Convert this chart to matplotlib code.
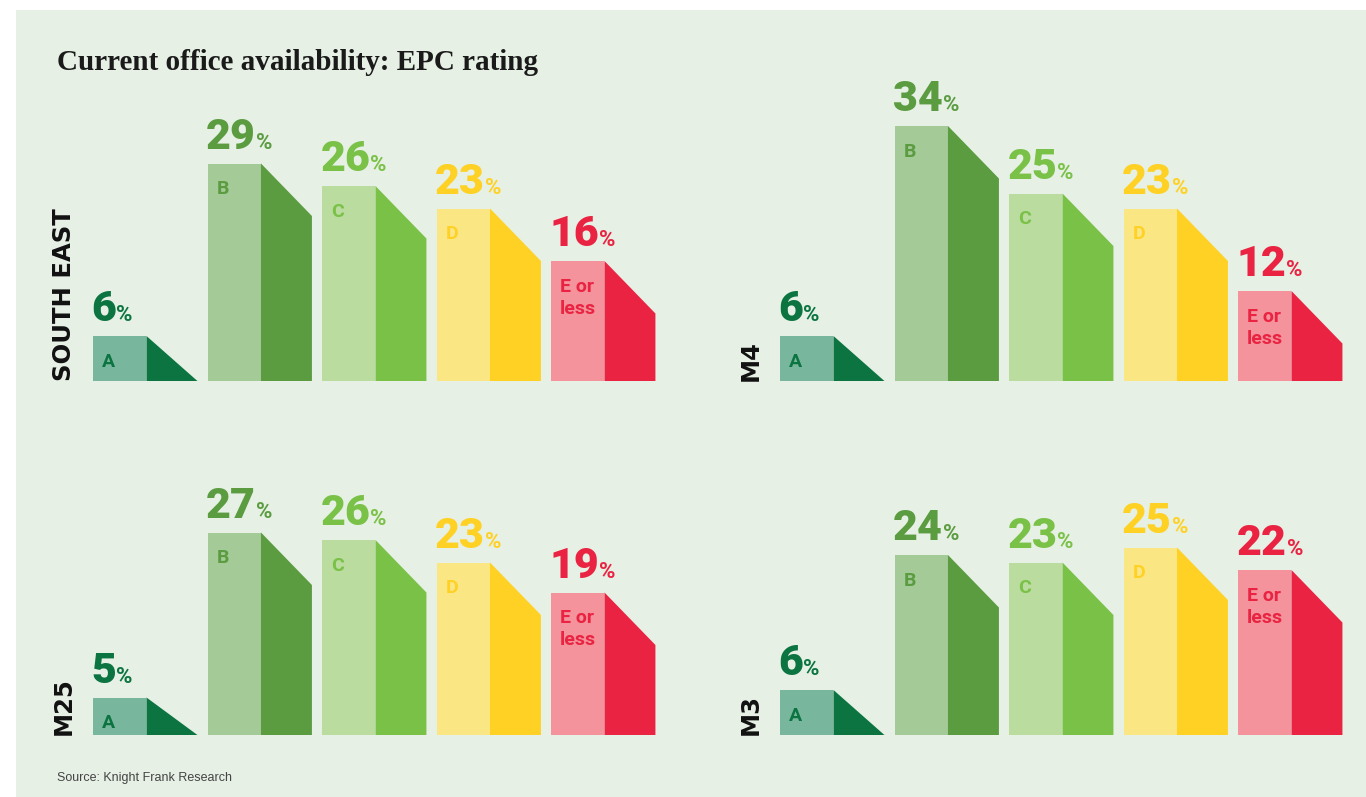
import matplotlib
matplotlib.use("Agg")
import matplotlib.pyplot as plt
from matplotlib.patches import Polygon, Rectangle
from matplotlib.offsetbox import TextArea, HPacker, AnnotationBbox

# values (% of available office space by EPC rating)
ratings = ['A', 'B', 'C', 'D', 'E or\nless']
south_east = [6, 29, 26, 23, 16]
m4 = [6, 34, 25, 23, 12]
m25 = [5, 27, 26, 23, 19]
m3 = [6, 24, 23, 25, 22]
regions = ['SOUTH EAST', 'M4', 'M25', 'M3']

light = ['#78b69d', '#a3ca97', '#badc9f', '#fbe684', '#f4939c']
dark = ['#0b7441', '#5b9c41', '#7ac148', '#ffd124', '#e92341']

W, H = 1366, 797
PITCH = 114.5      # px per category
YPX = 7.5          # px per percent
FRONT = 0.467
SIDE = 0.445
DROP = 7.0         # slope of the side face, in percent units
num_font = ['Roboto', 'DejaVu Sans']

fig = plt.figure(figsize=(W / 100, H / 100), dpi=100)
fig.patch.set_facecolor('white')
fig.patches.append(Rectangle((16 / W, 0), 1 - 16 / W, (H - 10) / H,
                             transform=fig.transFigure, facecolor='#e6f0e5',
                             edgecolor='none', zorder=-10))

fig.text(57 / W, (H - 70) / H, 'Current office availability: EPC rating',
         family='Liberation Serif', weight='bold', fontsize=21,
         color='#1a1a1a', va='baseline')
fig.text(57 / W, (H - 781) / H, 'Source: Knight Frank Research',
         family='Liberation Sans', fontsize=9, color='#444444', va='baseline')


def draw_group(vals, name, x0, base, label_x):
    left = x0 - 0.1 * PITCH
    ax = fig.add_axes([left / W, (H - base) / H, 5.05 * PITCH / W, 40 * YPX / H])
    ax.set_xlim(-0.1, 4.95)
    ax.set_ylim(0, 40)
    ax.set_axis_off()
    for i, v in enumerate(vals):
        ax.add_patch(Rectangle((i, 0), FRONT, v, facecolor=light[i], edgecolor='none'))
        xs = i + FRONT
        ax.add_patch(Polygon([(xs, 0), (xs, v), (xs + SIDE, max(v - DROP, 0)), (xs + SIDE, 0)],
                             closed=True, facecolor=dark[i], edgecolor='none'))
        # big value with small % sign
        num = TextArea(str(v), textprops=dict(family=num_font, weight='black',
                                               fontsize=31, color=dark[i]))
        pct = TextArea('%', textprops=dict(family=num_font, weight='bold',
                                            fontsize=16, color=dark[i]))
        box = HPacker(children=[num, pct], align='baseline', pad=0, sep=0)
        ab = AnnotationBbox(box, (i, v), xybox=(-1, 4), xycoords='data',
                            boxcoords='offset points', box_alignment=(0, 0),
                            frameon=False, pad=0)
        ax.add_artist(ab)
        ax.annotate(ratings[i], (i, v), xytext=(6.5, -12), textcoords='offset points',
                    ha='left', va='top', fontsize=14, weight='bold', family=num_font,
                    color=dark[i], linespacing=1.3)
    fig.text(label_x / W, (H - base) / H, name, rotation=90, ha='center', va='bottom',
             family='DejaVu Sans', weight='bold', fontsize=17.5, color='#111111')


draw_group(south_east, regions[0], 93, 381, 64)
draw_group(m4, regions[1], 780, 381, 751)
draw_group(m25, regions[2], 93, 735, 64)
draw_group(m3, regions[3], 780, 735, 751)

fig.savefig('out.png', dpi=100)
